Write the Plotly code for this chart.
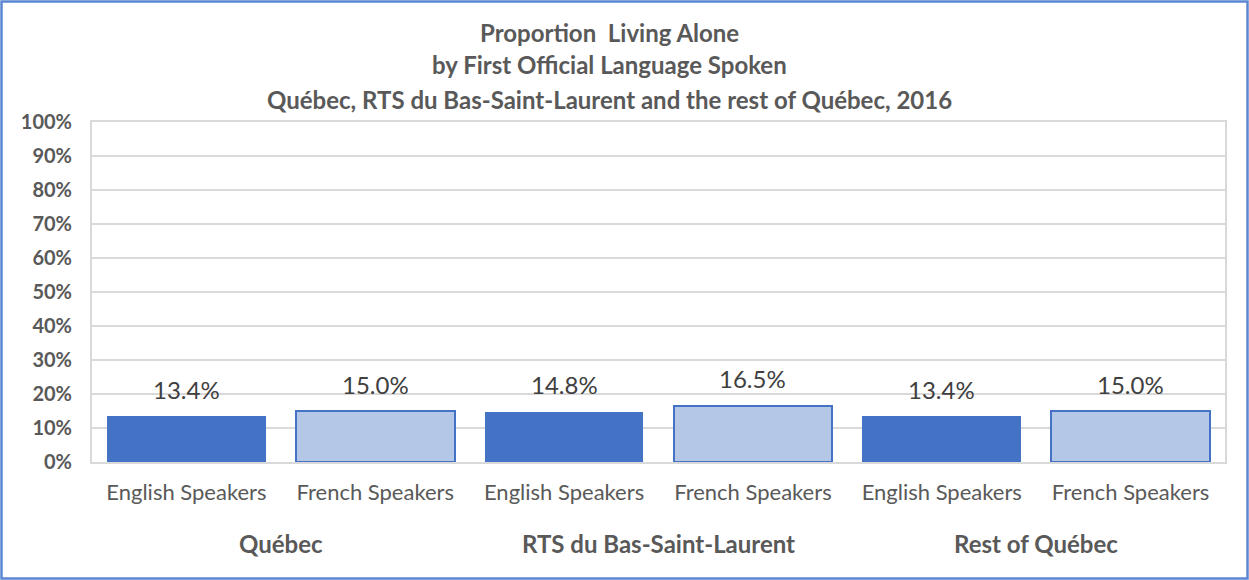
import plotly.graph_objects as go

groups = ["Québec", "RTS du Bas-Saint-Laurent", "Rest of Québec"]
speakers = ["English Speakers", "French Speakers"]
values = [0.134, 0.150, 0.148, 0.165, 0.134, 0.150]
value_labels = ["13.4%", "15.0%", "14.8%", "16.5%", "13.4%", "15.0%"]
y_ticks = [0, 0.1, 0.2, 0.3, 0.4, 0.5, 0.6, 0.7, 0.8, 0.9, 1.0]

title_lines = ["Proportion  Living Alone",
               "by First Official Language Spoken",
               "Québec, RTS du Bas-Saint-Laurent and the rest of Québec, 2016"]

W, H = 1249, 580
ML, MR, MT, MB = 92, 24, 122, 118
PW, PH = W - ML - MR, H - MT - MB

FONT = "Lato"
GREY = "#595959"
BLUE = "#4472C4"
LIGHT = "#B4C7E7"
FRAME = "#5B87D2"

x_pos = list(range(len(values)))
ticktext = [speakers[i % 2] for i in x_pos]
colors = [BLUE if i % 2 == 0 else LIGHT for i in x_pos]
line_w = [0 if i % 2 == 0 else 2 for i in x_pos]

fig = go.Figure()
fig.add_trace(go.Bar(
    x=x_pos, y=values, width=0.84,
    marker=dict(color=colors, line=dict(color=BLUE, width=line_w)),
    showlegend=False, hoverinfo="skip",
))

annotations = []
for i, (v, lab) in enumerate(zip(values, value_labels)):
    annotations.append(dict(x=i, y=v, xref="x", yref="y", text=lab, showarrow=False,
                            yshift=27, font=dict(family=FONT, size=24, color="#404040")))
for g, name in enumerate(groups):
    annotations.append(dict(x=2 * g + 0.5, y=-(543 - (MT + PH)) / PH, xref="x", yref="paper",
                            text="<b>%s</b>" % name, showarrow=False, yanchor="middle",
                            font=dict(family=FONT, size=24, color=GREY)))
for k, line in enumerate(title_lines):
    yy = [32, 65, 99][k]
    annotations.append(dict(x=(609 - ML) / PW, y=(MT + PH - yy) / PH, xref="paper", yref="paper",
                            text="<b>%s</b>" % line, showarrow=False, yanchor="middle",
                            font=dict(family=FONT, size=24, color=GREY)))

fig.update_layout(
    width=W, height=H,
    margin=dict(l=ML, r=MR, t=MT, b=MB, pad=0),
    paper_bgcolor="white", plot_bgcolor="white",
    annotations=annotations,
    bargap=0,
    xaxis=dict(range=[-0.5, 5.5], tickmode="array", tickvals=x_pos, ticktext=ticktext,
               showgrid=False, zeroline=False, showline=True, linecolor="#D9D9D9",
               linewidth=2, mirror=True, ticks="", ticklabelstandoff=10,
               tickfont=dict(family=FONT, size=22, color=GREY)),
    yaxis=dict(range=[0, 1], tickmode="array", tickvals=y_ticks, tickformat=".0%",
               showgrid=True, gridcolor="#D9D9D9", gridwidth=2, zeroline=False,
               showline=True, linecolor="#D9D9D9", linewidth=2, mirror=True, ticks="",
               ticklabelstandoff=14,
               tickfont=dict(family=FONT, size=20, color=GREY, weight="bold")),
    shapes=[dict(type="rect", xref="paper", yref="paper",
                 x0=-(ML - 1.5) / PW, x1=1 + (MR - 1.5) / PW,
                 y0=-(MB - 1.5) / PH, y1=1 + (MT - 1.5) / PH,
                 line=dict(color=FRAME, width=2.5), layer="below")],
)

fig.write_html("out.html", config={"displayModeBar": False},
               post_script="document.body.style.margin='0';")
